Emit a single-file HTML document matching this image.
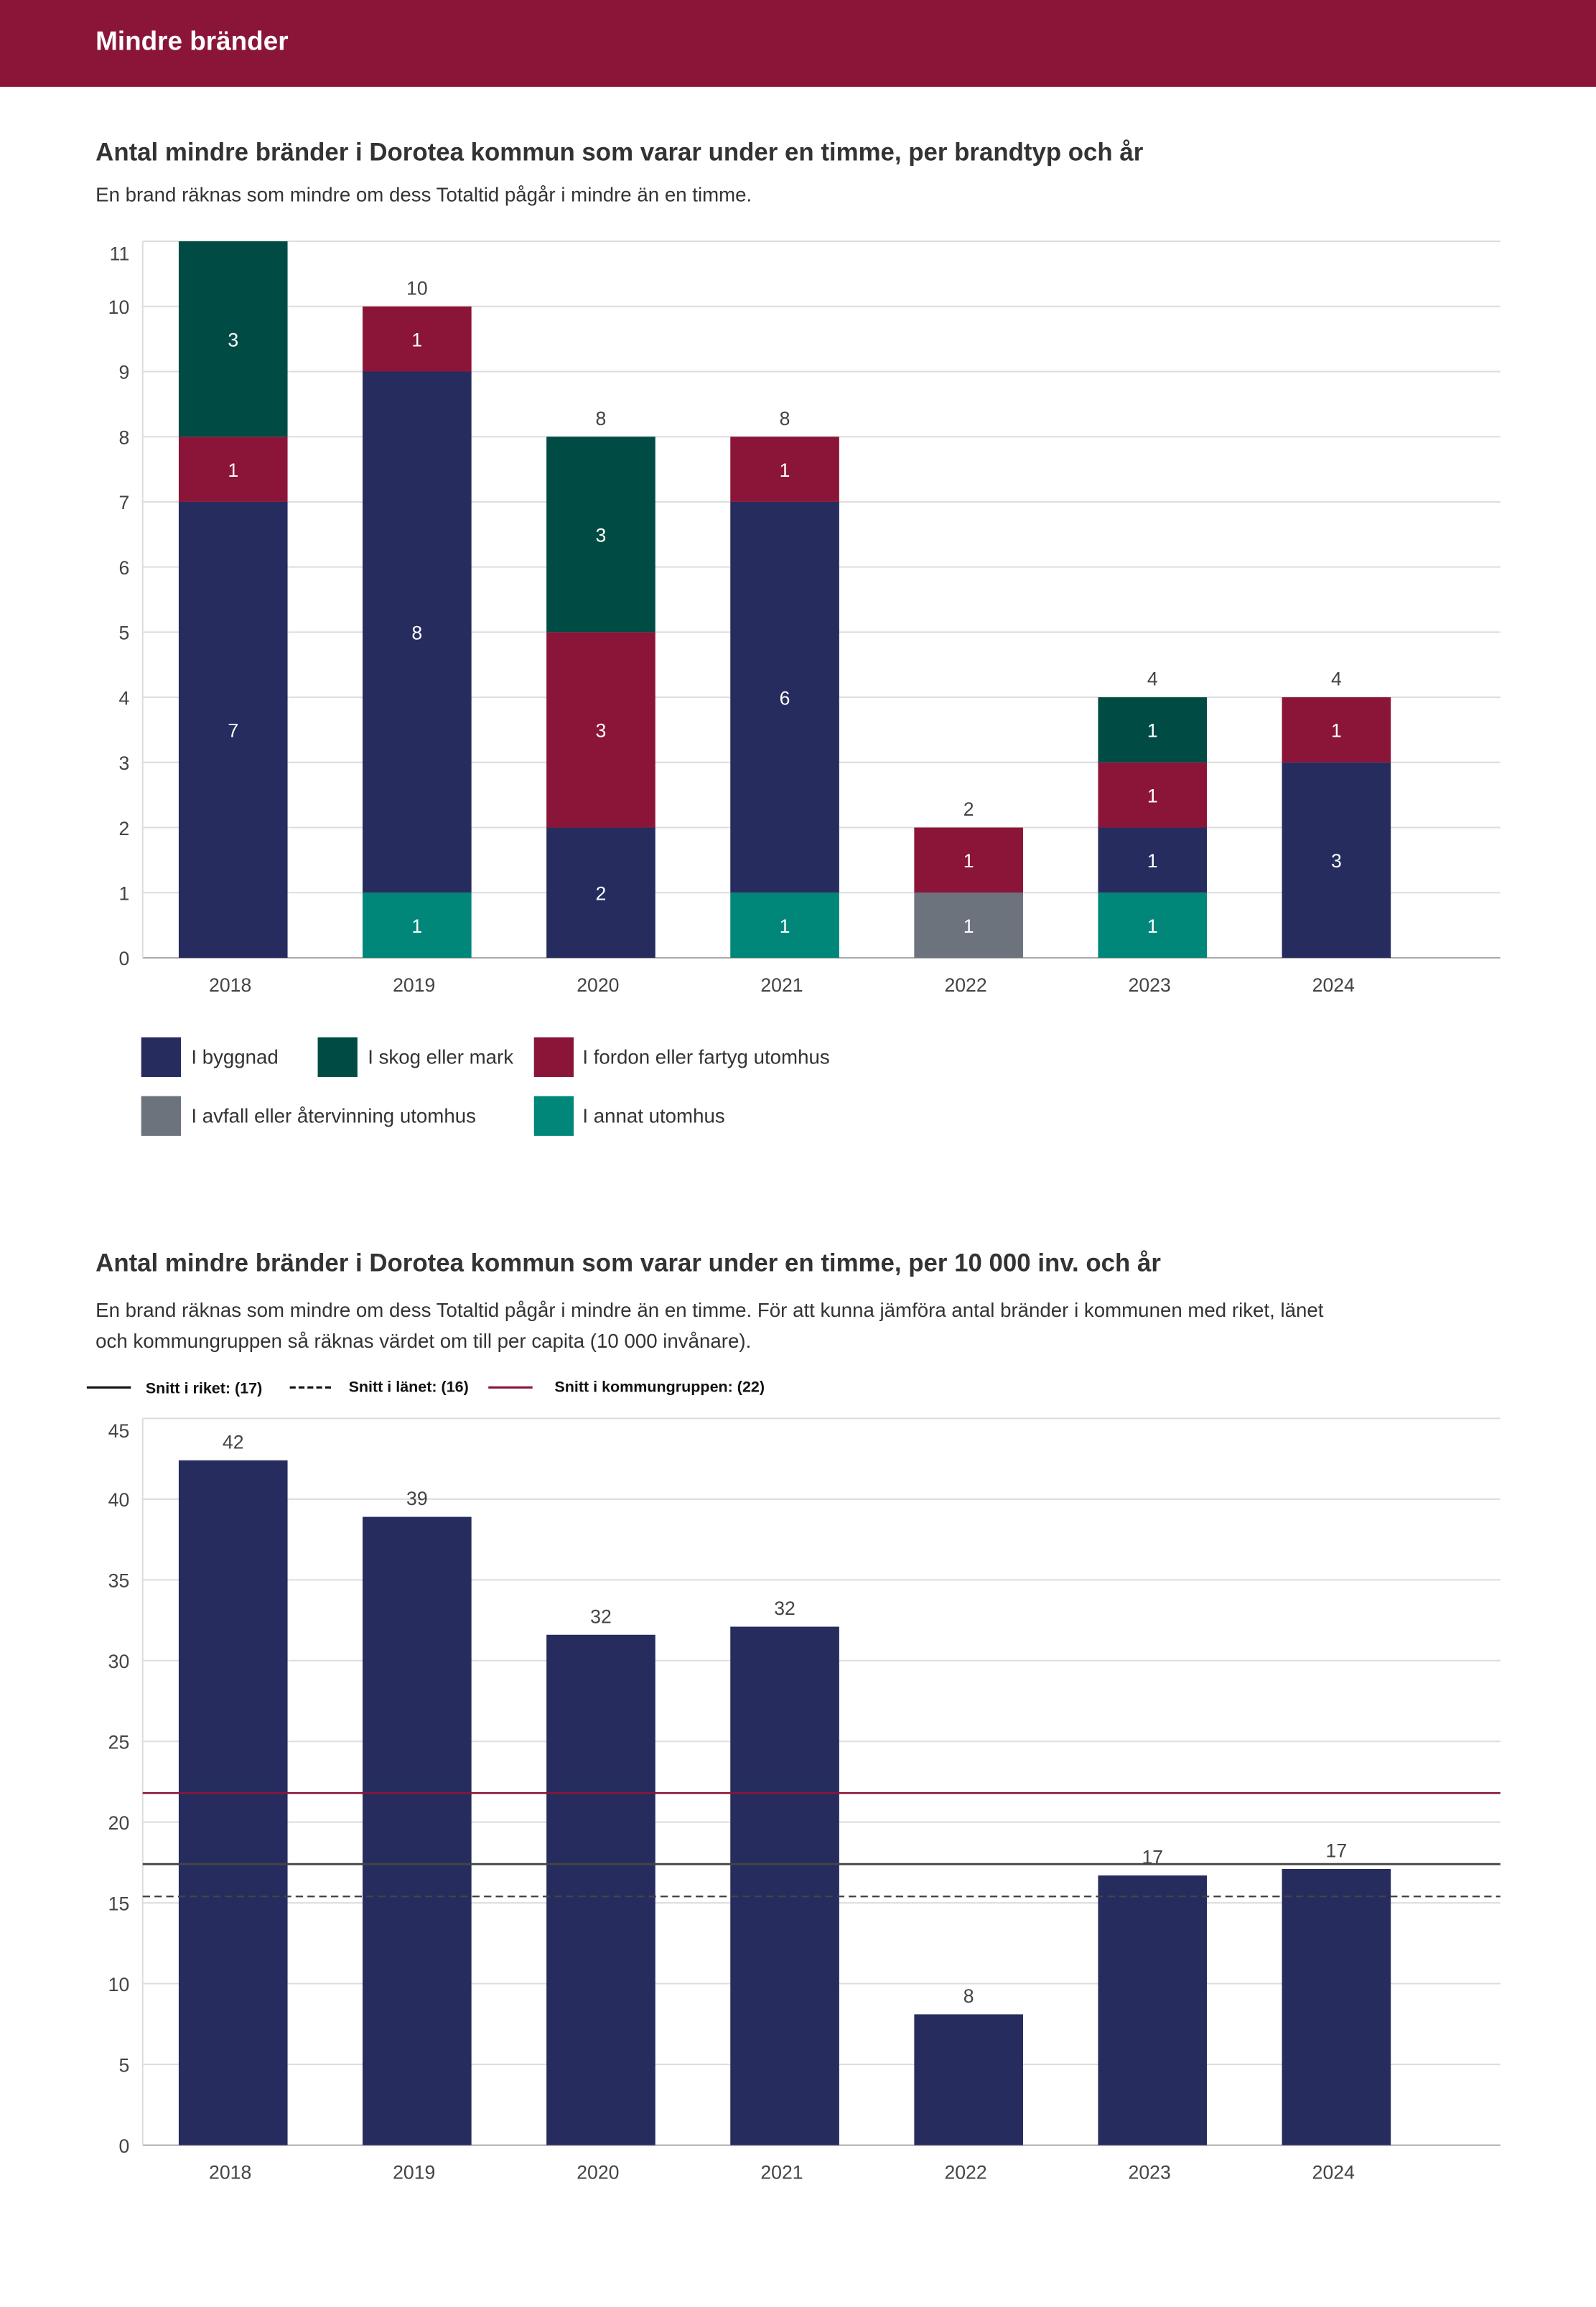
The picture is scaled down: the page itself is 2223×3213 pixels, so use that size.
<!DOCTYPE html>
<html><head><meta charset="utf-8"><style>
html,body{margin:0;padding:0;background:#fff;}
svg{display:block;font-family:"Liberation Sans",sans-serif;}
</style></head><body>
<svg id="page" width="2223" height="3213" viewBox="0 0 1085 1568" preserveAspectRatio="none" xmlns="http://www.w3.org/2000/svg">
<rect x="0" y="0" width="1085" height="59" fill="#8b1538"/>
<text x="65" y="34" fill="#fff" font-size="18" font-weight="bold">Mindre bränder</text>
<text x="65" y="109" fill="#333" font-size="17" font-weight="bold">Antal mindre bränder i Dorotea kommun som varar under en timme, per brandtyp och år</text>
<text x="65" y="137" fill="#333" font-size="13.5">En brand räknas som mindre om dess Totaltid pågår i mindre än en timme.</text>
<g id="c1"></g>
<g>
<rect x="96" y="705" width="27" height="27" fill="#262c5e"/>
<text x="130" y="723" fill="#333" font-size="13.5">I byggnad</text>
<rect x="216" y="705" width="27" height="27" fill="#004c45"/>
<text x="250" y="723" fill="#333" font-size="13.5">I skog eller mark</text>
<rect x="363" y="705" width="27" height="27" fill="#8b1538"/>
<text x="396" y="723" fill="#333" font-size="13.5">I fordon eller fartyg utomhus</text>
<rect x="96" y="745" width="27" height="27" fill="#6c737c"/>
<text x="130" y="763" fill="#333" font-size="13.5">I avfall eller återvinning utomhus</text>
<rect x="363" y="745" width="27" height="27" fill="#00877a"/>
<text x="396" y="763" fill="#333" font-size="13.5">I annat utomhus</text>
</g>
<text x="65" y="864" fill="#333" font-size="17" font-weight="bold">Antal mindre bränder i Dorotea kommun som varar under en timme, per 10 000 inv. och år</text>
<text x="65" y="895" fill="#333" font-size="13.5">En brand räknas som mindre om dess Totaltid pågår i mindre än en timme. För att kunna jämföra antal bränder i kommunen med riket, länet</text>
<text x="65" y="916" fill="#333" font-size="13.5">och kommungruppen så räknas värdet om till per capita (10 000 invånare).</text>
<g>
<line x1="59" y1="943" x2="89" y2="943" stroke="#111" stroke-width="1.5"/>
<text x="99" y="947" fill="#111" font-size="10.5" font-weight="bold">Snitt i riket: (17)</text>
<line x1="197" y1="943" x2="227" y2="943" stroke="#111" stroke-width="1.5" stroke-dasharray="4,2"/>
<text x="237" y="946" fill="#111" font-size="10.5" font-weight="bold">Snitt i länet: (16)</text>
<line x1="332" y1="943" x2="362" y2="943" stroke="#8b1538" stroke-width="1.5"/>
<text x="377" y="946" fill="#111" font-size="10.5" font-weight="bold">Snitt i kommungruppen: (22)</text>
</g>
<g id="c2"></g>
</svg>
<script>
const years = ["2018","2019","2020","2021","2022","2023","2024"];
const annat = [0,1,0,1,0,1,0];
const avfall = [0,0,0,0,1,0,0];
const byggnad = [7,8,2,6,0,1,3];
const fordon = [1,1,3,1,1,1,1];
const skog = [3,0,3,0,0,1,0];
const ticks1 = [0,1,2,3,4,5,6,7,8,9,10,11];
const perCapita = [42.4,38.9,31.6,32.1,8.1,16.7,17.1];
const perCapitaLabels = ["42","39","32","32","8","17","17"];
const ticks2 = [0,5,10,15,20,25,30,35,40,45];
const avgRiket = [17.4];
const avgLanet = [15.4];
const avgKommungrupp = [21.8];

const NS="http://www.w3.org/2000/svg";
function mk(parent,tag,attrs,text){const e=document.createElementNS(NS,tag);for(const k in attrs)e.setAttribute(k,attrs[k]);if(text!==undefined)e.textContent=text;parent.appendChild(e);return e;}
const plotL=97, plotR=1020, bandStart=96, band=125, barW=74;
function xc(i){return bandStart+band*(i+0.5);}

// Chart 1
const c1=document.getElementById('c1');
const y1Top=164, y1Bot=651, y1Max=11;
function y1(v){return y1Bot-(v/y1Max)*(y1Bot-y1Top);}
ticks1.forEach(t=>{
  const g=mk(c1,'line',{x1:plotL,x2:plotR,y1:y1(t),y2:y1(t),stroke:t===0?'#aaa':'#ddd','stroke-width':1});
  
  
  const l=mk(c1,'text',{x:88,y:y1(t)+(t===y1Max?13:5),'text-anchor':'end',fill:'#444','font-size':13},String(t));
  
  
});
const ax1=mk(c1,'line',{x1:plotL,x2:plotL,y1:y1Top,y2:y1Bot,stroke:'#ddd'});


const series=[[annat,'#00877a','annat'],[avfall,'#6c737c','avfall'],[byggnad,'#262c5e','byggnad'],[fordon,'#8b1538','fordon'],[skog,'#004c45','skog']];
years.forEach((yr,i)=>{
  let base=0;
  series.forEach(([arr,col,nm])=>{
    const v=arr[i]; if(!v) return;
    const r=mk(c1,'rect',{x:xc(i)-barW/2,y:y1(base+v),width:barW,height:y1(base)-y1(base+v),fill:col});
    
    
    const t=mk(c1,'text',{x:xc(i),y:(y1(base)+y1(base+v))/2+5,'text-anchor':'middle',fill:'#fff','font-size':13},String(v));
    
    
    base+=v;
  });
  if(base<y1Max){
    const tt=mk(c1,'text',{x:xc(i),y:y1(base)-8,'text-anchor':'middle',fill:'#444','font-size':13},String(base));
    
    
  }
  const xl=mk(c1,'text',{x:xc(i)-2,y:674,'text-anchor':'middle',fill:'#444','font-size':13},yr);
  
  
});

// Chart 2
const c2=document.getElementById('c2');
const y2Top=964, y2Bot=1458, y2Max=45;
function y2(v){return y2Bot-(v/y2Max)*(y2Bot-y2Top);}
ticks2.forEach(t=>{
  const g=mk(c2,'line',{x1:plotL,x2:plotR,y1:y2(t),y2:y2(t),stroke:t===0?'#aaa':'#ddd','stroke-width':1});
  
  
  const l=mk(c2,'text',{x:88,y:y2(t)+(t===y2Max?13:5),'text-anchor':'end',fill:'#444','font-size':13},String(t));
  
  
});
const ax2=mk(c2,'line',{x1:plotL,x2:plotL,y1:y2Top,y2:y2Bot,stroke:'#ddd'});


years.forEach((yr,i)=>{
  const v=perCapita[i];
  const r=mk(c2,'rect',{x:xc(i)-barW/2,y:y2(v),width:barW,height:y2Bot-y2(v),fill:'#262c5e'});
  
  
  const t=mk(c2,'text',{x:xc(i),y:y2(v)-8,'text-anchor':'middle',fill:'#444','font-size':13},perCapitaLabels[i]);
  
  
  const xl=mk(c2,'text',{x:xc(i)-2,y:1481,'text-anchor':'middle',fill:'#444','font-size':13},yr);
  
  
});
const lk=mk(c2,'line',{x1:plotL,x2:plotR,y1:y2(avgKommungrupp[0]),y2:y2(avgKommungrupp[0]),stroke:'#8b1538','stroke-width':1.2});


const lr=mk(c2,'line',{x1:plotL,x2:plotR,y1:y2(avgRiket[0]),y2:y2(avgRiket[0]),stroke:'#444','stroke-width':1.4});


const ll=mk(c2,'line',{x1:plotL,x2:plotR,y1:y2(avgLanet[0]),y2:y2(avgLanet[0]),stroke:'#444','stroke-width':1.2,'stroke-dasharray':'5,3'});


</script>
</body></html>
